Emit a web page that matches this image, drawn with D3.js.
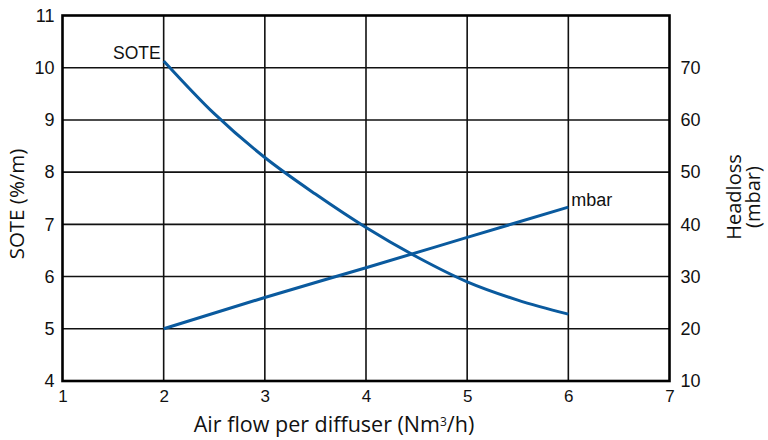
<!DOCTYPE html>
<html><head><meta charset="utf-8">
<script src="https://cdn.jsdelivr.net/npm/d3@7"></script>
<style>body{margin:0;background:#fff}svg{display:block}</style>
</head><body>
<svg id="c" width="768" height="440"></svg>
<script>
const flow = [2, 2.5, 3, 3.5, 4, 4.5, 5, 5.5, 6];
const sote = [10.13, 9.12, 8.28, 7.58, 6.94, 6.38, 5.90, 5.55, 5.28];
const mbarFlow = [2, 3, 4, 5, 6];
const mbar = [20, 26.0, 31.7, 37.5, 43.3];
const xTicks = [1, 2, 3, 4, 5, 6, 7];
const leftTicks = [4, 5, 6, 7, 8, 9, 10, 11];
const rightTicks = [10, 20, 30, 40, 50, 60, 70];

const svg = d3.select('#c');
const L = 62.5, R = 669.5, T = 15.5, B = 381;
const x = d3.scaleLinear().domain([1, 7]).range([L, R]);
const yL = d3.scaleLinear().domain([4, 11]).range([B, T]);
const yR = d3.scaleLinear().domain([10, 80]).range([B, T]);
const col = '#0a5a9e';
const tickFont = 'Liberation Sans, Arial, sans-serif';
const titleFont = 'Open Sans, sans-serif';

// grid
const g = svg.append('g');
g.selectAll('.vg').data(xTicks.slice(1, -1)).join('line')
  .attr('x1', d => x(d)).attr('x2', d => x(d)).attr('y1', T).attr('y2', B)
  .attr('stroke', '#111').attr('stroke-width', 1.6);
g.selectAll('.hg').data(leftTicks.slice(1, -1)).join('line')
  .attr('y1', d => yL(d)).attr('y2', d => yL(d)).attr('x1', L).attr('x2', R)
  .attr('stroke', '#111').attr('stroke-width', 1.6);
g.append('rect').attr('x', L).attr('y', T).attr('width', R - L).attr('height', B - T)
  .attr('fill', 'none').attr('stroke', '#000').attr('stroke-width', 2.6);

// axes via d3 (labels only)
const ax = svg.append('g').attr('transform', `translate(0,${B})`)
  .call(d3.axisBottom(x).tickValues(xTicks).tickSize(0).tickPadding(9).tickFormat(d3.format('d')));
const al = svg.append('g').attr('transform', `translate(${L},0)`)
  .call(d3.axisLeft(yL).tickValues(leftTicks).tickSize(0).tickPadding(8).tickFormat(d3.format('d')));
const ar = svg.append('g').attr('transform', `translate(${R},0)`)
  .call(d3.axisRight(yR).tickValues(rightTicks).tickSize(0).tickPadding(11).tickFormat(d3.format('d')));
[ax, al, ar].forEach(a => {
  a.select('.domain').remove();
  a.selectAll('text').attr('font-family', tickFont).attr('font-size', 18).attr('fill', '#111');
});
ax.selectAll('text').attr('font-size', 17);

// lines
const lineS = d3.line().x((d, i) => x(flow[i])).y(d => yL(d)).curve(d3.curveMonotoneX);
svg.append('path').attr('d', lineS(sote)).attr('fill', 'none').attr('stroke', col).attr('stroke-width', 3);
const lineM = d3.line().x((d, i) => x(mbarFlow[i])).y(d => yR(d)).curve(d3.curveMonotoneX);
svg.append('path').attr('d', lineM(mbar)).attr('fill', 'none').attr('stroke', col).attr('stroke-width', 3);

// series labels
svg.append('text').attr('x', x(flow[0]) - 3).attr('y', yL(sote[0]) - 2).attr('text-anchor', 'end')
  .attr('font-family', tickFont).attr('font-size', 17.5).attr('fill', '#111').text('SOTE');
svg.append('text').attr('x', x(mbarFlow[mbarFlow.length - 1]) + 3).attr('y', yR(mbar[mbar.length - 1]) - 1)
  .attr('font-family', tickFont).attr('font-size', 18).attr('fill', '#111').text('mbar');

// axis titles
svg.append('text').attr('x', 334).attr('y', 432).attr('text-anchor', 'middle')
  .attr('font-family', titleFont).attr('font-size', 21.5).attr('fill', '#111')
  .html('Air flow per diffuser (Nm<tspan dy="-6" font-size="12">3</tspan><tspan dy="6">/h)</tspan>');
svg.append('text').attr('transform', 'translate(24,204) rotate(-90)').attr('text-anchor', 'middle')
  .attr('font-family', titleFont).attr('font-size', 20.5).attr('fill', '#111').text('SOTE (%/m)');
const rt = svg.append('text').attr('transform', 'translate(741,197) rotate(-90)').attr('text-anchor', 'middle')
  .attr('font-family', titleFont).attr('font-size', 20).attr('fill', '#111');
rt.append('tspan').attr('x', 0).attr('dy', 0).text('Headloss');
rt.append('tspan').attr('x', 0).attr('dy', 19).text('(mbar)');
</script>
</body></html>
